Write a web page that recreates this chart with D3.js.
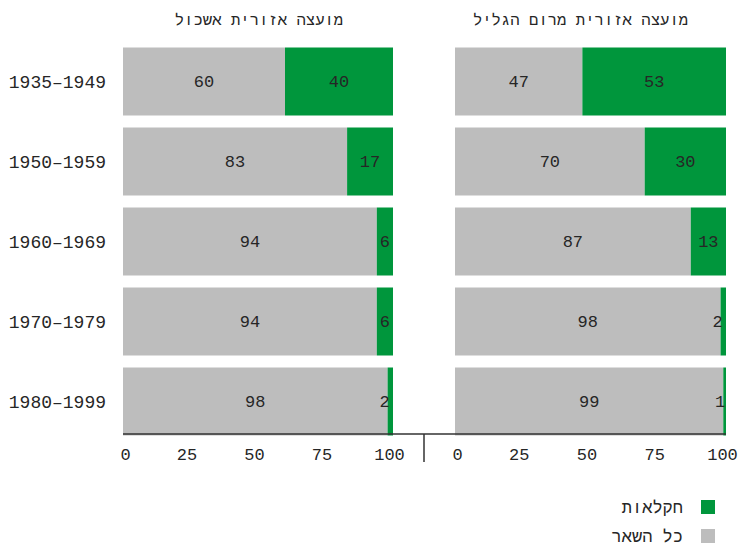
<!DOCTYPE html>
<html><head><meta charset="utf-8">
<script src="https://cdn.jsdelivr.net/npm/d3@7"></script>
<style>body{margin:0;background:#fff}svg{display:block;font-family:"Liberation Mono",monospace}</style>
</head><body><svg id="c" width="740" height="546"></svg>
<script>
const categories = ["1935–1949","1950–1959","1960–1969","1970–1979","1980–1999"];
const panelTitles = ["מועצה אזורית אשכול","מועצה אזורית מרום הגליל"];
const eshkolAgri = [40,17,6,6,2];
const eshkolRest = [60,83,94,94,98];
const meromAgri = [53,30,13,2,1];
const meromRest = [47,70,87,98,99];
const tickValues = [0,25,50,75,100];
const legendLabels = ["חקלאות","כל השאר"];

const colors = {agri:"#00963c", rest:"#bdbdbd", text:"#262626", axis:"#333"};
const FONT = "Liberation Mono";
const svg = d3.select("#c");
const y = d3.scaleBand().domain(categories).range([41.5,441.5]).paddingInner(0.15).paddingOuter(0.075);
const panels = [
  {title: panelTitles[0], agri: eshkolAgri, rest: eshkolRest, x: d3.scaleLinear().domain([0,100]).range([123,393]), titleShift: 1},
  {title: panelTitles[1], agri: meromAgri, rest: meromRest, x: d3.scaleLinear().domain([0,100]).range([455,726]), titleShift: -10}
];
const axisY = 434;

panels.forEach(p => {
  const g = svg.append("g");
  const x = p.x;
  categories.forEach((c,i) => {
    const r = p.rest[i], a = p.agri[i];
    g.append("rect").attr("x", x(0)).attr("y", y(c)).attr("width", x(r)-x(0)).attr("height", y.bandwidth()).attr("fill", colors.rest);
    g.append("rect").attr("x", x(r)).attr("y", y(c)).attr("width", x(r+a)-x(r)).attr("height", y.bandwidth()).attr("fill", colors.agri);
    const cy = y(c) + y.bandwidth()/2;
    g.append("text").attr("x", (x(0)+x(r))/2).attr("y", cy).attr("dy","0.35em")
      .attr("text-anchor","middle").attr("font-size",17).attr("fill",colors.text).text(r);
    const w = x(r+a)-x(r);
    const t = g.append("text").attr("y", cy).attr("dy","0.35em")
      .attr("font-size",17).attr("fill",colors.text).text(a);
    if (w < 12) t.attr("x", x(r)+2).attr("text-anchor","end");
    else t.attr("x", (x(r)+x(r+a))/2).attr("text-anchor","middle");
  });
  g.append("text").attr("x", (x(0)+x(100))/2 + p.titleShift).attr("y", 25).attr("text-anchor","middle")
    .attr("font-size",15.6).attr("fill",colors.text).text(p.title);
  const ax = g.append("g").attr("transform",`translate(0,${axisY})`)
    .call(d3.axisBottom(x).tickValues(tickValues).tickSize(0).tickPadding(14).tickFormat(d3.format("d")));
  ax.select(".domain").remove();
  ax.selectAll("text").attr("font-size",17).attr("font-family",FONT).attr("fill",colors.text)
    .attr("dx", d => d === 0 ? 2 : -4);
});

svg.append("line").attr("x1", panels[0].x(0)).attr("x2", panels[1].x(100)).attr("y1", axisY).attr("y2", axisY)
  .attr("stroke", colors.axis).attr("stroke-width",1.5);
svg.append("line").attr("x1", 424).attr("x2", 424).attr("y1", axisY).attr("y2", 462)
  .attr("stroke", colors.axis).attr("stroke-width",1.5);

categories.forEach(c => {
  svg.append("text").attr("x",106).attr("y", y(c)+y.bandwidth()/2).attr("dy","0.35em")
    .attr("text-anchor","end").attr("font-size",18).attr("fill",colors.text).text(c);
});

const legend = [{label: legendLabels[0], color: colors.agri},{label: legendLabels[1], color: colors.rest}];
legend.forEach((l,i) => {
  const ly = 507 + i*29;
  svg.append("rect").attr("x",701).attr("y",ly-7).attr("width",14).attr("height",14).attr("fill",l.color);
  svg.append("text").attr("x",683).attr("y",ly).attr("dy","0.35em").attr("text-anchor","end")
    .attr("font-size",17).attr("fill",colors.text).text(l.label);
});
</script></body></html>
